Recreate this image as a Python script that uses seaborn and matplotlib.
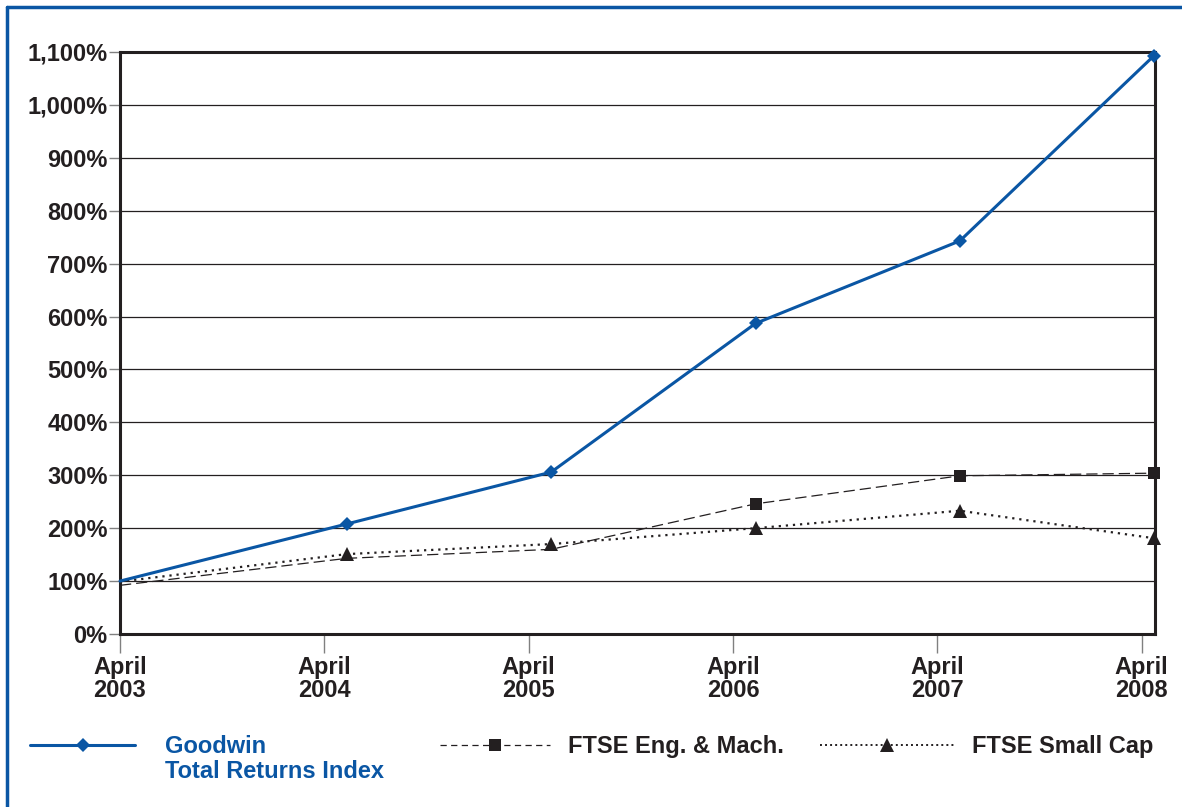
import numpy as np
import pandas as pd
import matplotlib
matplotlib.use("Agg")
import matplotlib.pyplot as plt
import seaborn as sns
from matplotlib.lines import Line2D
from matplotlib.ticker import FuncFormatter

# Data (x = fractional year, y = % total return)
years = [2003.0, 2004.11, 2005.11, 2006.11, 2007.11, 2008.06]
goodwin = [100, 208, 306, 587, 743, 1093]
ftse_eng = [92, 143, 160, 246, 299, 304]
ftse_small = [99, 151, 170, 200, 233, 181]
tick_years = [2003, 2004, 2005, 2006, 2007, 2008]
tick_labels = [f"April\n{y}" for y in tick_years]

BLUE = "#0a56a4"
DARK = "#231f20"
FS = 17

sns.set_theme(style="white")
plt.rcParams['font.family'] = ['Liberation Sans', 'DejaVu Sans']
plt.rcParams['font.weight'] = 'bold'

fig = plt.figure(figsize=(11.82, 8.07), dpi=100)
ax = fig.add_axes([120 / 1182, 1 - 634 / 807, 1035 / 1182, 582 / 807])

df = pd.DataFrame({"year": years, "goodwin": goodwin,
                   "eng": ftse_eng, "small": ftse_small})

# FTSE Small Cap - dotted with triangles
sns.lineplot(data=df, x="year", y="small", ax=ax, color=DARK,
             linestyle=(0, (1, 2.2)), linewidth=1.6, marker="^",
             markersize=10, markevery=[1, 2, 3, 4, 5], markeredgewidth=0,
             clip_on=False, zorder=4)
# FTSE Eng. & Mach. - dashed with squares
sns.lineplot(data=df, x="year", y="eng", ax=ax, color=DARK,
             linestyle=(0, (9, 4)), linewidth=0.9, marker="s",
             markersize=8.5, markevery=[3, 4, 5], markeredgewidth=0,
             clip_on=False, zorder=4)
# Goodwin - solid blue with diamonds
sns.lineplot(data=df, x="year", y="goodwin", ax=ax, color=BLUE,
             linewidth=2.2, marker="D", markersize=7.5,
             markevery=[1, 2, 3, 4, 5], markeredgewidth=0,
             clip_on=False, zorder=5)

ax.set_xlim(2003.0, 2008.065)
ax.set_ylim(0, 1100)
ax.set_yticks(np.arange(0, 1101, 100))
ax.yaxis.set_major_formatter(FuncFormatter(lambda v, p: f"{int(v):,}%"))
ax.set_xticks(tick_years)
ax.set_xticklabels(tick_labels, linespacing=1.0)
ax.set_xlabel("")
ax.set_ylabel("")

ax.grid(axis="y", color=DARK, linewidth=0.9)
ax.grid(axis="x", visible=False)
for side in ["left", "right", "top", "bottom"]:
    ax.spines[side].set_color(DARK)
    ax.spines[side].set_linewidth(2.2)
    ax.spines[side].set_visible(True)

ax.tick_params(axis="y", which="major", direction="out", length=8,
               width=1, color="#808080", labelsize=FS, labelcolor=DARK,
               pad=1, left=True)
ax.tick_params(axis="x", which="major", direction="out", length=14,
               width=1, color="#808080", labelsize=FS, labelcolor=DARK,
               pad=2, bottom=True)
for lab in ax.get_xticklabels() + ax.get_yticklabels():
    lab.set_fontweight("bold")

# Legend, one entry per block below the plot
h_good = Line2D([], [], color=BLUE, linewidth=2.2, marker="D",
                markersize=7.5, markeredgewidth=0)
h_eng = Line2D([], [], color=DARK, linewidth=0.9, linestyle=(0, (5, 3.5)),
               marker="s", markersize=8, markeredgewidth=0)
h_small = Line2D([], [], color=DARK, linewidth=1.4, linestyle=(0, (1, 1.6)),
                 marker="^", markersize=10, markeredgewidth=0)

# handle, label, colour, left x (px), handle length, text pad
entries = [
    (h_good, "Goodwin", BLUE, 30, 4.45, 1.27),
    (h_eng, "FTSE Eng. & Mach.", DARK, 440, 4.66, 0.76),
    (h_small, "FTSE Small Cap", DARK, 820, 5.7, 0.72),
]
legends = []
for handle, label, col, x0, hl, pad in entries:
    leg = fig.legend(handles=[handle], labels=[label], loc="upper left",
                     bbox_to_anchor=(x0 / 1182, 1 - 735 / 807), frameon=False,
                     handlelength=hl, handletextpad=pad, numpoints=1,
                     borderpad=0, borderaxespad=0,
                     prop={"size": FS, "weight": "bold"})
    for t in leg.get_texts():
        t.set_color(col)
    legends.append(leg)

# second line of the Goodwin label, aligned under the first
fig.canvas.draw()
bb = legends[0].get_texts()[0].get_window_extent()
fig.text(bb.x0 / 1182, (bb.y0 - 2) / 807, "Total Returns Index", color=BLUE,
         fontsize=FS, fontweight="bold", ha="left", va="top")

# Blue frame along top and left edge
fig.add_artist(Line2D([7 / 1182, 7 / 1182], [0, 1 - 7 / 807], color=BLUE,
                      linewidth=2.5, transform=fig.transFigure))
fig.add_artist(Line2D([7 / 1182, 1], [1 - 7 / 807, 1 - 7 / 807], color=BLUE,
                      linewidth=2.5, transform=fig.transFigure))

fig.savefig("out.png", dpi=100, facecolor="white")
